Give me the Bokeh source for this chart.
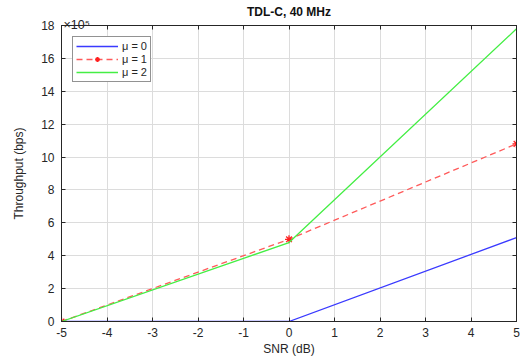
from bokeh.plotting import figure
from bokeh.models import (Range1d, LinearAxis, FixedTicker, Legend, LegendItem, Label)
from bokeh.embed import file_html
from bokeh.resources import INLINE

snr = [-5, 0, 5]
mu0 = [0.0, 0.0, 5.1e5]
mu1 = [0.0, 5.0e5, 10.8e5]
mu2 = [0.0, 4.8e5, 17.8e5]
xticks = [-5, -4, -3, -2, -1, 0, 1, 2, 3, 4, 5]
xtick_labels = {v: str(v) for v in xticks}
yticks = [0, 2e5, 4e5, 6e5, 8e5, 10e5, 12e5, 14e5, 16e5, 18e5]
ytick_labels = {int(v): str(int(v / 1e5)) for v in yticks}

FONT = "Liberation Sans"
TXT = "#262626"

p = figure(width=523, height=358, output_backend="svg", toolbar_location=None,
           x_range=Range1d(-5, 5), y_range=Range1d(0, 18e5),
           min_border_left=61, min_border_right=7, min_border_top=25, min_border_bottom=37)

p.outline_line_color = "#262626"
p.outline_line_width = 1

for ax in (p.xaxis[0], p.yaxis[0]):
    ax.major_tick_in = 4
    ax.major_tick_out = 0
    ax.minor_tick_in = 0
    ax.minor_tick_out = 0
    ax.axis_line_color = "#262626"
    ax.major_tick_line_color = "#262626"
    ax.major_label_text_font = FONT
    ax.major_label_text_font_size = "12px"
    ax.major_label_text_color = TXT
    ax.axis_label_text_font = FONT
    ax.axis_label_text_font_size = "12px"
    ax.axis_label_text_font_style = "normal"
    ax.axis_label_text_color = TXT

p.xaxis[0].ticker = FixedTicker(ticks=xticks)
p.xaxis[0].major_label_overrides = xtick_labels
p.yaxis[0].ticker = FixedTicker(ticks=yticks)
p.yaxis[0].major_label_overrides = ytick_labels
p.xaxis[0].axis_label = "SNR (dB)"
p.yaxis[0].axis_label = "Throughput (bps)"
p.xaxis[0].axis_label_standoff = 2
p.yaxis[0].axis_label_standoff = 12
p.xaxis[0].major_label_standoff = 6
p.yaxis[0].major_label_standoff = 7

for loc, tick in (("right", yticks), ("above", xticks)):
    ax = LinearAxis(ticker=FixedTicker(ticks=tick), major_tick_in=4, major_tick_out=0,
                    minor_tick_in=0, minor_tick_out=0, major_label_text_font_size="0px",
                    axis_line_color="#262626", major_tick_line_color="#262626")
    ax.major_label_text_alpha = 0
    ax.major_label_standoff = 0
    p.add_layout(ax, loc)

p.xgrid.ticker = FixedTicker(ticks=xticks)
p.ygrid.ticker = FixedTicker(ticks=yticks)
p.grid.grid_line_color = "#dcdcdc"
p.grid.grid_line_width = 1

r0 = p.line(snr, mu0, line_color="#3a3aff", line_width=1.3)
r1 = p.line(snr, mu1, line_color="#ff5a5a", line_width=1.3, line_dash="6 4")
r1m = p.scatter(snr, mu1, marker="asterisk", size=8, line_color="#ff2020", line_width=1.3)
r2 = p.line(snr, mu2, line_color="#44ee44", line_width=1.3)

legend = Legend(items=[
    LegendItem(label="μ = 0", renderers=[r0]),
    LegendItem(label="μ = 1", renderers=[r1, r1m]),
    LegendItem(label="μ = 2", renderers=[r2]),
], location="top_left")
legend.label_text_font = FONT
legend.label_text_font_size = "11px"
legend.label_text_color = TXT
legend.glyph_width = 42
legend.glyph_height = 12
legend.label_height = 12
legend.spacing = 1
legend.padding = 3
legend.margin = 11
legend.label_standoff = 4
legend.border_line_color = "#262626"
legend.border_line_width = 1
legend.background_fill_alpha = 1
p.add_layout(legend)

# exponent marker, placed in the top side panel so it is not clipped by the frame
p.add_layout(Label(x=2, y=1, x_units="screen", y_units="screen", text="×10⁵",
                   text_font=FONT, text_font_size="12.5px", text_color=TXT,
                   text_baseline="alphabetic"), "above")

p.title.text = "TDL-C, 40 MHz"
p.title.text_font = FONT
p.title.text_font_size = "12px"
p.title.text_font_style = "bold"
p.title.align = "center"
p.title.text_color = "#111111"
p.title.standoff = -14
p.title.offset = 0

open("out.html", "w").write(file_html(p, INLINE))
